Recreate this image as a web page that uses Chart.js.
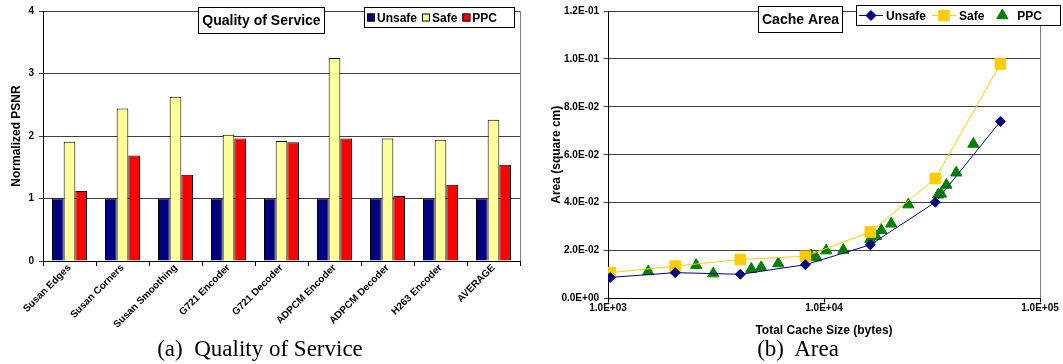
<!DOCTYPE html>
<html>
<head>
<meta charset="utf-8">
<script src="https://cdn.jsdelivr.net/npm/chart.js@4.4.0/dist/chart.umd.min.js"></script>
<style>
  body { margin: 0; background: #fff; width: 1063px; height: 364px; overflow: hidden; position: relative; }
  #qos { position: absolute; left: 0; top: 0; }
  #area { position: absolute; left: 530px; top: 0; }
  .cap { position: absolute; font-family: "Liberation Serif", "Times New Roman", serif; font-size: 23px; white-space: nowrap; transform: translate(-50%, -50%); color: #000; }
</style>
</head>
<body>
<canvas id="qos" width="530" height="364"></canvas>
<canvas id="area" width="533" height="364"></canvas>
<div class="cap" style="left:260px;top:349px">(a)&nbsp; Quality of Service</div>
<div class="cap" style="left:798px;top:349px">(b)&nbsp; Area</div>
<script>
// --- (a) quality of service ---
const benchmarks = ["Susan Edges", "Susan Corners", "Susan Smoothing", "G721 Encoder", "G721 Decoder",
  "ADPCM Encoder", "ADPCM Decoder", "H263 Encoder", "AVERAGE"];
const unsafePsnr = [1, 1, 1, 1, 1, 1, 1, 1, 1];
const safePsnr = [1.91, 2.44, 2.63, 2.02, 1.92, 3.25, 1.96, 1.94, 2.26];
const ppcPsnr = [1.12, 1.69, 1.38, 1.96, 1.90, 1.96, 1.04, 1.22, 1.54];

// --- (b) area vs total cache size ---
const cacheSizes = [1024, 2048, 4096, 8192, 16384, 32768, 65536];
const unsafeArea = [0.0088, 0.0108, 0.0101, 0.0141, 0.0224, 0.0402, 0.0739];
const safeArea = [0.0108, 0.0135, 0.0163, 0.0176, 0.0278, 0.0501, 0.0979];
const ppcSizes = [1536, 2560, 3072, 4608, 5120, 6144, 8704, 9216, 10240, 12288,
  16384, 17408, 18432, 20480, 24576, 33792, 34816, 36864, 40960, 49152];
const ppcArea = [0.0113, 0.0139, 0.0104, 0.0123, 0.0130, 0.0146, 0.0179, 0.0171, 0.0200, 0.0202,
  0.0248, 0.0260, 0.0285, 0.0312, 0.0392, 0.0433, 0.0437, 0.0474, 0.0525, 0.0645];
const xTickValues = [1000, 10000, 100000];

const FONT = "'Liberation Sans', Arial, sans-serif";

function sci(v) {
  if (v === 0) return "0.0E+00";
  const e = Math.floor(Math.log10(v) + 1e-9);
  const m = v / Math.pow(10, e);
  return m.toFixed(1) + "E" + (e < 0 ? "-" : "+") + String(Math.abs(e)).padStart(2, "0");
}

// boxed title + boxed legend, drawn on top like the Excel originals
const boxes = {
  id: "boxes",
  afterDraw(chart, args, opts) {
    const ctx = chart.ctx;
    const ca = chart.chartArea;
    ctx.save();
    // right plot border
    ctx.strokeStyle = "#808080";
    ctx.lineWidth = 1;
    ctx.beginPath();
    ctx.moveTo(Math.round(ca.right) + 0.5, ca.top);
    ctx.lineTo(Math.round(ca.right) + 0.5, ca.bottom);
    ctx.stroke();

    const t = opts.title;
    ctx.fillStyle = "#fff";
    ctx.fillRect(t.x, t.y, t.w, t.h);
    ctx.strokeStyle = "#000";
    ctx.strokeRect(t.x + 0.5, t.y + 0.5, t.w, t.h);
    ctx.fillStyle = "#000";
    ctx.font = "bold 14px " + FONT;
    ctx.textAlign = "center";
    ctx.textBaseline = "middle";
    ctx.fillText(t.text, t.x + t.w / 2 + 0.5, t.y + t.h / 2 + 1);

    const l = opts.legend;
    ctx.fillStyle = "#fff";
    ctx.fillRect(l.x, l.y, l.w, l.h);
    ctx.strokeStyle = "#000";
    ctx.strokeRect(l.x + 0.5, l.y + 0.5, l.w, l.h);
    ctx.font = "bold 12px " + FONT;
    ctx.textAlign = "left";
    let x = l.x + l.pad;
    const cy = l.y + l.h / 2 + 0.5;
    chart.data.datasets.forEach((ds) => {
      if (l.kind === "bar") {
        ctx.fillStyle = ds.backgroundColor;
        ctx.fillRect(x, cy - 4, 8, 8);
        ctx.strokeStyle = "#000";
        ctx.strokeRect(x + 0.5, cy - 3.5, 7, 7);
        x += 10;
      } else {
        if (ds.showLine) {
          ctx.strokeStyle = ds.borderColor;
          ctx.lineWidth = 1;
          ctx.beginPath();
          ctx.moveTo(x, cy);
          ctx.lineTo(x + 24, cy);
          ctx.stroke();
        }
        ctx.fillStyle = ds.pointBackgroundColor;
        ctx.strokeStyle = ds.pointBorderColor;
        Chart.helpers.drawPoint(ctx, { pointStyle: ds.pointStyle, radius: ds.pointRadius, rotation: 0, borderWidth: 1 }, x + 12, cy);
        x += 27;
      }
      ctx.fillStyle = "#000";
      ctx.fillText(ds.label, x, cy + 1);
      x += ctx.measureText(ds.label).width + l.gap;
    });
    ctx.restore();
  }
};

new Chart(document.getElementById("qos"), {
  type: "bar",
  data: {
    labels: benchmarks,
    datasets: [
      { label: "Unsafe", data: unsafePsnr, backgroundColor: "#000080", borderColor: "#000", borderWidth: 1 },
      { label: "Safe", data: safePsnr, backgroundColor: "#FFFF99", borderColor: "#000", borderWidth: 1 },
      { label: "PPC", data: ppcPsnr, backgroundColor: "#FF0000", borderColor: "#000", borderWidth: 1 }
    ]
  },
  options: {
    responsive: false,
    animation: false,
    layout: { padding: { top: 7, right: 10, bottom: 0, left: 0 } },
    datasets: { bar: { barPercentage: 1, categoryPercentage: 0.66 } },
    scales: {
      x: {
        grid: { drawOnChartArea: false, color: "#000", tickLength: 5 },
        border: { color: "#000" },
        ticks: { color: "#000", font: { family: FONT, size: 10, weight: "bold" }, minRotation: 45, maxRotation: 45, padding: -4 },
        afterFit: (s) => { s.height = 103; }
      },
      y: {
        min: 0, max: 4,
        ticks: { stepSize: 1, color: "#000", font: { family: FONT, size: 10, weight: "bold" }, padding: 5 },
        grid: { color: "#404040", tickLength: 4 },
        border: { color: "#000" },
        title: { display: true, text: "Normalized PSNR", color: "#000", font: { family: FONT, size: 12, weight: "bold" }, padding: { top: 9 } },
        afterFit: (s) => { s.width = 43; }
      }
    },
    plugins: {
      legend: { display: false },
      tooltip: { enabled: false },
      boxes: {
        title: { text: "Quality of Service", x: 198, y: 7, w: 126, h: 26 },
        legend: { kind: "bar", x: 364, y: 7, w: 150, h: 20, pad: 3, gap: 5 }
      }
    }
  },
  plugins: [boxes]
});

const toPoints = (xs, ys) => xs.map((x, i) => ({ x: x, y: ys[i] }));

new Chart(document.getElementById("area"), {
  type: "scatter",
  data: {
    datasets: [
      { label: "Unsafe", data: toPoints(cacheSizes, unsafeArea), showLine: true, borderColor: "#000080", borderWidth: 1,
        pointStyle: "rectRot", pointRadius: 5, pointBackgroundColor: "#000080", pointBorderColor: "#000080" },
      { label: "Safe", data: toPoints(cacheSizes, safeArea), showLine: true, borderColor: "#FFCC00", borderWidth: 1,
        pointStyle: "rect", pointRadius: 7.5, pointBackgroundColor: "#FFCC00", pointBorderColor: "#FFCC00" },
      { label: "PPC", data: toPoints(ppcSizes, ppcArea), showLine: false, borderColor: "#008000",
        pointStyle: "triangle", pointRadius: 6.5, pointBackgroundColor: "#008000", pointBorderColor: "#008000" }
    ]
  },
  options: {
    responsive: false,
    animation: false,
    layout: { padding: { top: 7, right: 23, bottom: 0, left: 0 } },
    scales: {
      x: {
        type: "logarithmic", min: 1000, max: 100000,
        afterBuildTicks: (s) => { s.ticks = xTickValues.map((v) => ({ value: v })); },
        ticks: { color: "#000", font: { family: FONT, size: 10, weight: "bold" }, callback: (v) => sci(v), padding: 0, maxRotation: 0 },
        grid: { drawOnChartArea: false, color: "#000", tickLength: 4 },
        border: { color: "#000" },
        title: { display: true, text: "Total Cache Size (bytes)", color: "#000", font: { family: FONT, size: 12, weight: "bold" }, padding: { bottom: 26 } },
        afterFit: (s) => { s.height = 65.5; }
      },
      y: {
        min: 0, max: 0.12,
        ticks: { stepSize: 0.02, color: "#000", font: { family: FONT, size: 10, weight: "bold" }, callback: (v) => sci(v), padding: 5 },
        grid: { color: "#404040", tickLength: 4 },
        border: { color: "#000" },
        title: { display: true, text: "Area (square cm)", color: "#000", font: { family: FONT, size: 12, weight: "bold" }, padding: { top: 19 } },
        afterFit: (s) => { s.width = 78; }
      }
    },
    plugins: {
      legend: { display: false },
      tooltip: { enabled: false },
      boxes: {
        title: { text: "Cache Area", x: 228, y: 6, w: 84, h: 26 },
        legend: { kind: "line", x: 326, y: 5, w: 204, h: 20, pad: 3, gap: 6 }
      }
    }
  },
  plugins: [boxes]
});
</script>
</body>
</html>
